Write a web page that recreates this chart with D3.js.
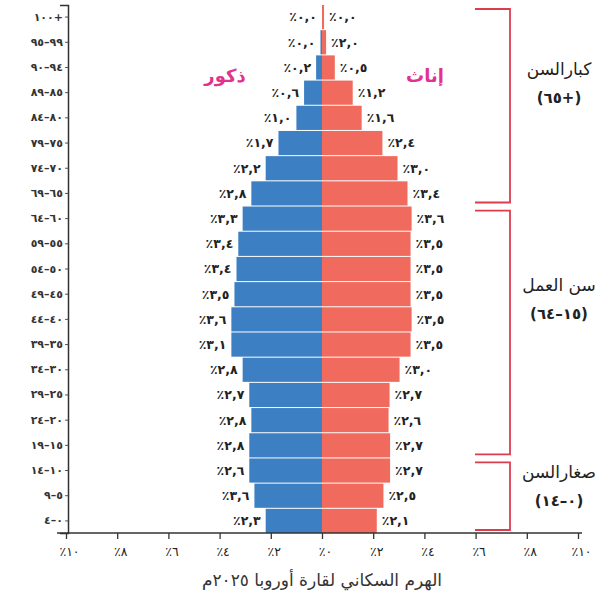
<!DOCTYPE html>
<html>
<head>
<meta charset="utf-8">
<script src="https://cdn.jsdelivr.net/npm/d3@7"></script>
<style>
  body { margin: 0; background: #fff; }
  text { font-family: "DejaVu Sans", sans-serif; }
</style>
</head>
<body>
<div id="chart"></div>
<script>
// age groups, top to bottom (written in the visual left-to-right order)
const ageGroups = ["١٠٠+", "٩٥–٩٩", "٩٠–٩٤", "٨٩–٨٥", "٨٤–٨٠", "٧٩–٧٥", "٧٤–٧٠", "٦٩–٦٥",
  "٦٤–٦٠", "٥٩–٥٥", "٥٤–٥٠", "٤٩–٤٥", "٤٤–٤٠", "٣٩–٣٥", "٣٤–٣٠", "٢٩–٢٥",
  "٢٤–٢٠", "١٩–١٥", "١٤–١٠", "٩–٥", "٤–٠"];

// bar lengths (%) as drawn in the picture
const males = [0, 0.06, 0.23, 0.7, 1.0, 1.7, 2.2, 2.76, 3.1, 3.27, 3.34, 3.42, 3.54, 3.54, 3.1, 2.84, 2.76, 2.84, 2.84, 2.64, 2.2];
const females = [0.08, 0.16, 0.5, 1.2, 1.55, 2.36, 2.95, 3.34, 3.5, 3.46, 3.46, 3.46, 3.5, 3.46, 3.03, 2.64, 2.6, 2.66, 2.66, 2.4, 2.14];

// printed labels
const maleLabels = ["٪٠,٠", "٪٠,٠", "٪٠,٢", "٪٠,٦", "٪١,٠", "٪١,٧", "٪٢,٢", "٪٢,٨", "٪٣,٣", "٪٣,٤", "٪٣,٤",
  "٪٣,٥", "٪٣,٦", "٪٣,١", "٪٢,٨", "٪٢,٧", "٪٢,٨", "٪٢,٨", "٪٢,٦", "٪٣,٦", "٪٢,٣"];
const femaleLabels = ["٪٠,٠", "٪٢,٠", "٪٠,٥", "٪١,٢", "٪١,٦", "٪٢,٤", "٪٣,٠", "٪٣,٤", "٪٣,٦", "٪٣,٥", "٪٣,٥",
  "٪٣,٥", "٪٣,٥", "٪٣,٥", "٪٣,٠", "٪٢,٧", "٪٢,٦", "٪٢,٧", "٪٢,٧", "٪٢,٥", "٪٢,١"];

const xTicks = [-10, -8, -6, -4, -2, 0, 2, 4, 6, 8, 10];
const arabicDigits = "٠١٢٣٤٥٦٧٨٩";
const toArabic = n => String(n).replace(/\d/g, c => arabicDigits[+c]);
// keep number strings in the order they are written (LRM between every char)
const vis = s => s.split("").join("\u200E");

// age bracket groups
const brackets = [
  { from: "١٠٠+", to: "٦٩–٦٥", title: "كبارالسن", sub: "(٦٥+)", ty: 75 },
  { from: "٦٤–٦٠", to: "١٩–١٥", title: "سن العمل", sub: "(٦٤–١٥)", ty: 291 },
  { from: "١٤–١٠", to: "٤–٠", title: "صغارالسن", sub: "(١٤–٠)", ty: 478 }
];

const width = 615, height = 609;
const svg = d3.select("#chart").append("svg")
  .attr("width", width)
  .attr("height", height);

const x = d3.scaleLinear().domain([-10, 10]).range([66, 578]);
const y = d3.scaleBand().domain(ageGroups).range([5, 533]).paddingInner(0.04);

const blue = "#3c7fc3", red = "#f06b5e", pink = "#e0338e", bracketRed = "#dc3d4d";

const rows = ageGroups.map((a, i) => ({ age: a, m: males[i], f: females[i], ml: maleLabels[i], fl: femaleLabels[i] }));

// bars
svg.append("g").selectAll("rect")
  .data(rows)
  .join("rect")
  .attr("x", d => x(-d.m))
  .attr("y", d => y(d.age))
  .attr("width", d => x(0) - x(-d.m))
  .attr("height", y.bandwidth())
  .attr("fill", blue);

svg.append("g").selectAll("rect")
  .data(rows)
  .join("rect")
  .attr("x", x(0))
  .attr("y", d => y(d.age))
  .attr("width", d => x(d.f) - x(0))
  .attr("height", y.bandwidth())
  .attr("fill", red);

// value labels
svg.append("g").selectAll("text")
  .data(rows)
  .join("text")
  .attr("x", d => x(-d.m) - 5)
  .attr("y", d => y(d.age) + y.bandwidth() / 2)
  .attr("dy", "0.35em")
  .attr("text-anchor", "end")
  .attr("font-size", 12.5)
  .attr("font-weight", "bold")
  .attr("fill", "#222")
  .text(d => vis(d.ml));

svg.append("g").selectAll("text")
  .data(rows)
  .join("text")
  .attr("x", d => x(d.f) + 5)
  .attr("y", d => y(d.age) + y.bandwidth() / 2)
  .attr("dy", "0.35em")
  .attr("text-anchor", "start")
  .attr("font-size", 12.5)
  .attr("font-weight", "bold")
  .attr("fill", "#222")
  .text(d => vis(d.fl));

// y axis
const yAxis = svg.append("g")
  .attr("transform", "translate(68,0)")
  .call(d3.axisLeft(y).tickSize(3).tickSizeOuter(8).tickFormat(vis));
yAxis.select(".domain").attr("stroke", "#333").attr("stroke-width", 1.5);
yAxis.selectAll(".tick line").attr("stroke", "#555");
yAxis.selectAll(".tick text")
  .attr("font-family", "DejaVu Sans")
  .attr("font-size", 11)
  .attr("font-weight", "bold")
  .attr("fill", "#333")
  .attr("x", -5);

// x axis
const xAxis = svg.append("g")
  .attr("transform", "translate(0,533)")
  .call(d3.axisBottom(x).tickValues(xTicks).tickSize(6).tickSizeOuter(0)
    .tickFormat(d => vis("٪" + toArabic(Math.abs(d)))));
xAxis.select(".domain").remove();
xAxis.append("line")
  .attr("x1", 57).attr("x2", 582)
  .attr("stroke", "#333").attr("stroke-width", 1.5);
xAxis.selectAll(".tick line").attr("stroke", "#333").attr("stroke-width", 1.3);
xAxis.selectAll(".tick text")
  .attr("font-family", "DejaVu Sans")
  .attr("font-size", 12.5)
  .attr("fill", "#222")
  .attr("x", 3)
  .attr("y", 14);

// legend
svg.append("text")
  .attr("x", 225).attr("y", 82)
  .attr("text-anchor", "middle")
  .attr("font-size", 18)
  .attr("font-weight", "bold")
  .attr("fill", pink)
  .text("ذكور");
svg.append("text")
  .attr("x", 425).attr("y", 82)
  .attr("text-anchor", "middle")
  .attr("font-size", 18)
  .attr("font-weight", "bold")
  .attr("fill", pink)
  .text("إناث");

// brackets
const bx = 510, bxIn = 475;
brackets.forEach(b => {
  const top = y(b.from) + 4;
  const bottom = y(b.to) + y.bandwidth() - 3;
  svg.append("path")
    .attr("d", `M${bxIn},${top}H${bx}V${bottom}H${bxIn}`)
    .attr("fill", "none")
    .attr("stroke", bracketRed)
    .attr("stroke-width", 1.8);
  svg.append("text")
    .attr("x", 559).attr("y", b.ty)
    .attr("text-anchor", "middle")
    .attr("font-size", 17)
    .attr("fill", "#222")
    .text(b.title);
  svg.append("text")
    .attr("x", 559).attr("y", b.ty + 28)
    .attr("text-anchor", "middle")
    .attr("font-size", 15)
    .attr("font-weight", "bold")
    .attr("fill", "#222")
    .text(vis(b.sub));
});

// title
svg.append("text")
  .attr("x", 322).attr("y", 586)
  .attr("text-anchor", "middle")
  .attr("font-size", 17)
  .attr("fill", "#333")
  .text("الهرم السكاني لقارة أوروبا ٢٠٢٥م");
</script>
</body>
</html>
